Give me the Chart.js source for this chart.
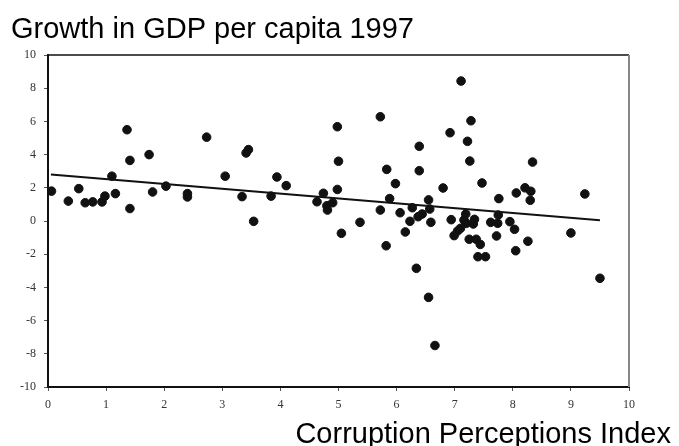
<!DOCTYPE html>
<html>
<head>
<meta charset="utf-8">
<script src="https://cdn.jsdelivr.net/npm/chart.js@4.4.0/dist/chart.umd.min.js"></script>
<style>
  html, body { margin: 0; padding: 0; background: #fff; }
  #wrap { width: 679px; height: 446px; position: relative; }
</style>
</head>
<body>
<div id="wrap"><canvas id="chart"></canvas></div>
<script>
// Title and axis label
const chartTitle = 'Growth in GDP per capita 1997';
const xAxisLabel = 'Corruption Perceptions Index';

// Countries: corruption index (x) and GDP growth per capita (y)
const cpiValues = [
    0.06, 0.35, 0.53, 0.64, 0.77, 0.93, 0.98, 1.10, 1.16, 1.36,
    1.41, 1.41, 1.74, 1.80, 2.03, 2.40, 2.40, 2.73, 3.05, 3.34,
    3.41, 3.45, 3.54, 3.84, 3.94, 4.10, 4.63, 4.74, 4.80, 4.81,
    4.90, 4.98, 5.00, 4.98, 5.05, 5.37, 5.72, 5.83, 5.98, 5.88,
    5.72, 5.82, 6.06, 6.15, 6.23, 6.27, 6.37, 6.44, 6.39, 6.39,
    6.55, 6.57, 6.59, 6.80, 6.92, 6.94, 7.11, 7.28, 7.22, 7.26,
    7.47, 7.76, 8.06, 8.21, 8.31, 8.30, 8.34, 9.24, 7.19, 7.16,
    7.20, 7.34, 7.32, 7.10, 7.05, 6.99, 7.25, 7.37, 7.44, 7.40,
    7.53, 7.62, 7.74, 7.75, 7.72, 7.95, 8.03, 8.05, 8.26, 9.00,
    6.34, 6.55, 6.66, 9.50
];
const growthValues = [
    1.80, 1.20, 1.95, 1.10, 1.15, 1.15, 1.50, 2.70, 1.65, 5.50,
    3.65, 0.75, 4.00, 1.75, 2.10, 1.65, 1.45, 5.05, 2.70, 1.47,
    4.10, 4.30, -0.02, 1.50, 2.65, 2.13, 1.16, 1.67, 0.92, 0.66,
    1.10, 5.68, 3.60, 1.90, -0.74, -0.08, 6.28, 3.11, 2.25, 1.35,
    0.66, -1.49, 0.50, -0.66, -0.02, 0.80, 0.26, 0.42, 4.50, 3.03,
    1.27, 0.72, -0.08, 1.99, 5.32, 0.08, 8.43, 6.04, 4.80, 3.61,
    2.29, 1.35, 1.69, 2.00, 1.79, 1.25, 3.55, 1.63, 0.42, 0.06,
    -0.14, 0.10, -0.18, -0.44, -0.60, -0.88, -1.10, -1.10, -1.41, -2.15,
    -2.15, -0.08, -0.14, 0.36, -0.90, -0.04, -0.50, -1.79, -1.22, -0.72,
    -2.85, -4.60, -7.50, -3.45
];

// Fitted trend line end points
const trendX = [0.05, 9.5];
const trendY = [2.8, 0.05];

const scatterPoints = cpiValues.map((x, i) => ({ x: x, y: growthValues[i] }));
const trendPoints = trendX.map((x, i) => ({ x: x, y: trendY[i] }));

// Draws the top and right edges of the plot box plus the two captions
const framePlugin = {
    id: 'frame',
    afterDraw(chart) {
        const ctx = chart.ctx;
        const a = chart.chartArea;
        ctx.save();
        ctx.strokeStyle = '#111';
        ctx.lineWidth = 1.5;
        ctx.beginPath();
        ctx.moveTo(a.left, a.top);
        ctx.lineTo(a.right, a.top);
        ctx.stroke();
        ctx.strokeStyle = '#888';
        ctx.lineWidth = 2;
        ctx.beginPath();
        ctx.moveTo(a.right, a.top);
        ctx.lineTo(a.right, a.bottom);
        ctx.stroke();

        ctx.fillStyle = '#000';
        ctx.font = '29px "Liberation Sans", Arial, sans-serif';
        ctx.textBaseline = 'alphabetic';
        ctx.textAlign = 'left';
        ctx.fillText(chartTitle, 11, 38);
        ctx.textAlign = 'right';
        ctx.fillText(xAxisLabel, 671, 443);
        ctx.restore();
    }
};

const ctx = document.getElementById('chart').getContext('2d');
new Chart(ctx, {
    type: 'scatter',
    data: {
        datasets: [
            {
                label: 'Countries',
                data: scatterPoints,
                backgroundColor: '#111',
                borderColor: '#111',
                pointRadius: 4.3,
                pointHoverRadius: 4.3
            },
            {
                type: 'line',
                label: 'Trend',
                data: trendPoints,
                borderColor: '#111',
                borderWidth: 2,
                pointRadius: 0,
                fill: false
            }
        ]
    },
    options: {
        responsive: true,
        maintainAspectRatio: false,
        animation: false,
        layout: { padding: { left: 0, right: 50, top: 55, bottom: 0 } },
        plugins: {
            legend: { display: false },
            tooltip: { enabled: false }
        },
        scales: {
            x: {
                type: 'linear',
                min: 0,
                max: 10,
                ticks: {
                    stepSize: 1,
                    color: '#333',
                    padding: 7,
                    font: { family: '"Liberation Serif", "Times New Roman", serif', size: 12 }
                },
                grid: { display: true, drawOnChartArea: false, tickLength: 4, color: '#555' },
                border: { display: true, color: '#111', width: 2 },
                afterFit(scale) { scale.height = 59; }
            },
            y: {
                min: -10,
                max: 10,
                ticks: {
                    stepSize: 2,
                    color: '#333',
                    padding: 8,
                    font: { family: '"Liberation Serif", "Times New Roman", serif', size: 12 }
                },
                grid: { display: true, drawOnChartArea: false, tickLength: 4, color: '#555' },
                border: { display: true, color: '#111', width: 2 },
                afterFit(scale) { scale.width = 48; }
            }
        }
    },
    plugins: [framePlugin]
});
</script>
</body>
</html>
